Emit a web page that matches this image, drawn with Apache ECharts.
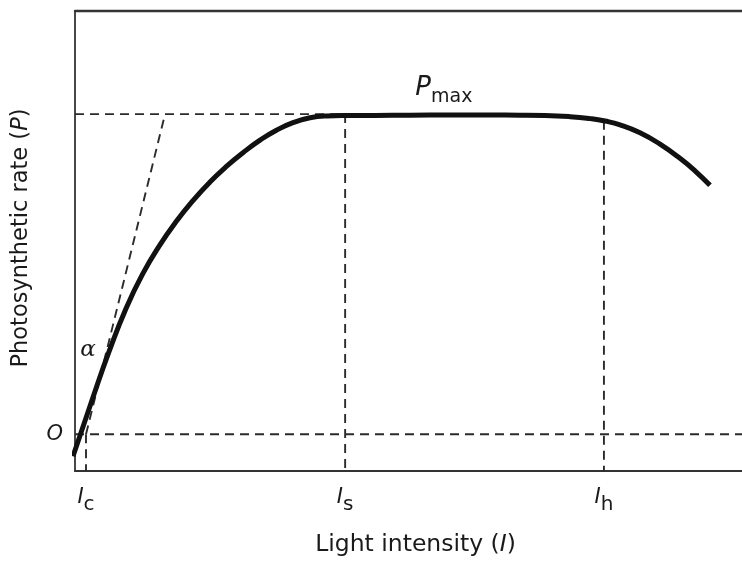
<!DOCTYPE html>
<html>
<head>
<meta charset="utf-8">
<script src="https://cdn.jsdelivr.net/npm/echarts@6/dist/echarts.min.js"></script>
<style>
html,body{margin:0;padding:0;background:#fff;}
#chart{width:742px;height:562px;}
</style>
</head>
<body>
<div id="chart"></div>
<script>
// ---- data ----
const curveI = [-0.30, 2.70, 5.10, 7.65, 10.19, 12.74, 15.14, 17.69, 20.24, 22.79, 25.19, 27.74, 30.13, 32.68, 35.23, 37.78, 40.48,
                44.98, 50.22, 56.22, 62.22, 66.72, 70.46, 74.21, 77.21, 79.46, 81.71, 84.71, 87.71, 90.70, 92.95, 95.20];
const curveP = [-6.87, 11.58, 25.82, 39.32, 50.25, 59.16, 66.35, 73.00, 78.79, 83.81, 87.96, 91.86, 94.89, 97.34, 98.85, 99.44, 99.57,
                99.60, 99.66, 99.69, 99.69, 99.67, 99.58, 99.21, 98.59, 97.83, 96.66, 94.18, 90.62, 86.19, 82.29, 77.77];
const Ic = 1.65, Is = 40.5, Ih = 79.3;
const Pmax = 100;
const PatIh = 97.9;
const tangentTopI = 13.5;
const xMin = 0, xMax = 100;
const yMin = -11.46, yMax = 132.2;
const xTickValues = [Ic, Is, Ih];
const xTickNames = ['c', 's', 'h'];
const yTickValues = [0];
const yTickNames = ['O'];
const alphaPos = [1.95, 26.3];
const pmaxPos = [55.3, 107.7];

const FONT = 'DejaVu Sans';
const dashStyle = {color: '#2b2b2b', width: 1.9, type: [9, 6]};
function dashLine(pts) {
  return {type: 'line', data: pts, symbol: 'none', silent: true, clip: false,
          lineStyle: dashStyle, z: 2};
}

const chart = echarts.init(document.getElementById('chart'), null, {renderer: 'canvas'});
chart.setOption({
  animation: false,
  backgroundColor: '#fff',
  grid: {left: 75, right: 0, top: 11, bottom: 87},
  xAxis: [{
    type: 'value', min: xMin, max: xMax, position: 'bottom',
    axisLine: {show: true, onZero: false, lineStyle: {color: '#333', width: 2}},
    axisTick: {show: false}, splitLine: {show: false},
    axisLabel: {
      show: true, customValues: xTickValues, margin: 16,
      formatter: function (v) {
        const k = xTickValues.indexOf(v);
        return '{i|I}{s|' + xTickNames[k] + '}';
      },
      rich: {
        i: {fontFamily: FONT, fontSize: 21, fontStyle: 'italic', color: '#1a1a1a', lineHeight: 24, verticalAlign: 'top'},
        s: {fontFamily: FONT, fontSize: 20, color: '#1a1a1a', lineHeight: 20, verticalAlign: 'top', padding: [8, 0, 0, 0]}
      }
    },
    name: 'Light intensity ({i|I})', nameLocation: 'middle', nameGap: 62,
    nameTextStyle: {fontFamily: FONT, fontSize: 23.5, color: '#1a1a1a', padding: [0, 0, 0, 14],
      rich: {i: {fontFamily: FONT, fontSize: 23.5, fontStyle: 'italic', color: '#1a1a1a'}}}
  }, {
    type: 'value', min: xMin, max: xMax, position: 'top',
    axisLine: {show: true, onZero: false, lineStyle: {color: '#333', width: 2.4}},
    axisTick: {show: false}, splitLine: {show: false}, axisLabel: {show: false}
  }],
  yAxis: [{
    type: 'value', min: yMin, max: yMax,
    axisLine: {show: true, onZero: false, lineStyle: {color: '#333', width: 1.8}},
    axisTick: {show: false}, splitLine: {show: false},
    axisLabel: {
      show: true, customValues: yTickValues, margin: 12,
      formatter: function (v) { return yTickNames[yTickValues.indexOf(v)]; },
      fontFamily: FONT, fontSize: 21, fontStyle: 'italic', color: '#1a1a1a', padding: [5, 0, 0, 0]
    },
    name: 'Photosynthetic rate ({i|P})', nameLocation: 'middle', nameGap: 42,
    nameTextStyle: {fontFamily: FONT, fontSize: 22.5, color: '#1a1a1a', padding: [0, 0, 0, 6],
      rich: {i: {fontFamily: FONT, fontSize: 22.5, fontStyle: 'italic', color: '#1a1a1a'}}}
  }],
  series: [
    dashLine([[xMin, Pmax], [Is, Pmax]]),
    dashLine([[Is, Pmax], [Is, yMin]]),
    dashLine([[Ih, PatIh], [Ih, yMin]]),
    dashLine([[xMin, 0], [xMax, 0]]),
    dashLine([[Ic, 0], [Ic, yMin]]),
    dashLine([[Ic, 0], [tangentTopI, Pmax]]),
    {
      type: 'line', symbol: 'none', smooth: 0.5, silent: true, z: 5, clip: false,
      data: curveI.map((x, i) => [x, curveP[i]]),
      lineStyle: {color: '#111', width: 5, cap: 'butt'}
    },
    {
      type: 'scatter', symbolSize: 0, silent: true, z: 6,
      itemStyle: {opacity: 1},
      data: [
        {value: alphaPos, label: {show: true, position: 'inside', formatter: 'α',
          fontFamily: 'DejaVu Serif', fontStyle: 'italic', fontSize: 23, color: '#1a1a1a'}},
        {value: pmaxPos, label: {show: true, position: 'inside', formatter: '{p|P}{s|max}',
          rich: {
            p: {fontFamily: FONT, fontSize: 26, fontStyle: 'italic', color: '#1a1a1a', lineHeight: 28, verticalAlign: 'top'},
            s: {fontFamily: FONT, fontSize: 19, color: '#1a1a1a', lineHeight: 20, verticalAlign: 'top', padding: [12, 0, 0, 0]}
          }}}
      ]
    }
  ]
});
</script>
</body>
</html>
